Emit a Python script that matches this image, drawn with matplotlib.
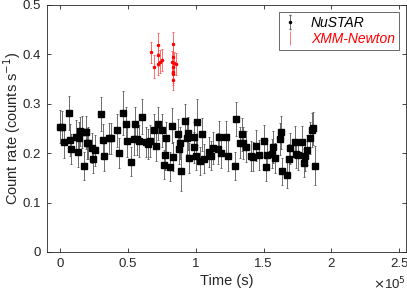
import matplotlib
matplotlib.use("Agg")
import matplotlib.pyplot as plt

# NuSTAR light curve (time in units of 1e5 s)
nu_t = [0.000, 0.015, 0.025, 0.061, 0.071, 0.081, 0.115, 0.128, 0.138, 0.147,
        0.162, 0.177, 0.187, 0.199, 0.206, 0.231, 0.243, 0.256, 0.302, 0.312,
        0.319, 0.359, 0.373, 0.420, 0.432, 0.462, 0.482, 0.489, 0.521, 0.548,
        0.545, 0.565, 0.580, 0.602, 0.636, 0.649, 0.663, 0.690, 0.705, 0.722,
        0.747, 0.762, 0.769, 0.781, 0.808, 0.821, 0.828, 0.867, 0.875, 0.885,
        0.894, 0.921, 0.934, 0.944, 0.953, 0.985, 0.988, 1.002, 1.012, 1.034,
        1.047, 1.057, 1.096, 1.111, 1.123, 1.160, 1.170, 1.184, 1.224, 1.238,
        1.287, 1.297, 1.327, 1.342, 1.344, 1.371, 1.408, 1.420, 1.445, 1.467,
        1.504, 1.514, 1.523, 1.560, 1.572, 1.580, 1.617, 1.629, 1.636, 1.673,
        1.686, 1.693, 1.730, 1.740, 1.752, 1.786, 1.796, 1.806, 1.816, 1.843,
        1.855, 1.867, 1.875]
nu_rate = [0.254, 0.254, 0.222, 0.281, 0.227, 0.208, 0.233, 0.202, 0.231, 0.244,
           0.243, 0.174, 0.242, 0.220, 0.221, 0.211, 0.188, 0.206, 0.279, 0.227,
           0.194, 0.230, 0.230, 0.246, 0.200, 0.281, 0.260, 0.225, 0.183, 0.260,
           0.229, 0.228, 0.225, 0.274, 0.223, 0.219, 0.225, 0.247, 0.215, 0.260,
           0.246, 0.177, 0.196, 0.231, 0.173, 0.256, 0.193, 0.238, 0.209, 0.220,
           0.164, 0.266, 0.231, 0.240, 0.190, 0.212, 0.232, 0.195, 0.263, 0.184,
           0.238, 0.189, 0.202, 0.195, 0.211, 0.209, 0.233, 0.200, 0.233, 0.195,
           0.174, 0.269, 0.221, 0.238, 0.221, 0.213, 0.194, 0.193, 0.215, 0.196,
           0.225, 0.173, 0.196, 0.199, 0.213, 0.190, 0.229, 0.242, 0.163, 0.156,
           0.189, 0.210, 0.223, 0.199, 0.197, 0.223, 0.180, 0.194, 0.206, 0.231,
           0.247, 0.250, 0.175]
nu_err = [0.033, 0.032, 0.031, 0.035, 0.032, 0.030, 0.034, 0.031, 0.033, 0.030,
          0.032, 0.029, 0.033, 0.031, 0.032, 0.030, 0.029, 0.031, 0.034, 0.033,
          0.030, 0.031, 0.032, 0.033, 0.030, 0.044, 0.034, 0.032, 0.030, 0.034,
          0.033, 0.031, 0.032, 0.035, 0.031, 0.030, 0.032, 0.033, 0.031, 0.034,
          0.033, 0.029, 0.031, 0.032, 0.029, 0.035, 0.030, 0.032, 0.031, 0.032,
          0.040, 0.034, 0.032, 0.033, 0.030, 0.031, 0.032, 0.030, 0.046, 0.029,
          0.033, 0.030, 0.031, 0.030, 0.032, 0.031, 0.032, 0.030, 0.033, 0.031,
          0.029, 0.034, 0.031, 0.033, 0.032, 0.031, 0.030, 0.030, 0.031, 0.030,
          0.032, 0.029, 0.031, 0.030, 0.032, 0.030, 0.033, 0.034, 0.028, 0.027,
          0.030, 0.031, 0.032, 0.030, 0.031, 0.032, 0.029, 0.031, 0.030, 0.032,
          0.035, 0.034, 0.039]

# XMM-Newton light curve
xmm_t = [0.671, 0.690, 0.719, 0.719, 0.722, 0.737, 0.747,
         0.826, 0.830, 0.828, 0.830, 0.833, 0.835, 0.842, 0.850, 0.832]
xmm_rate = [0.404, 0.375, 0.420, 0.399, 0.380, 0.385, 0.389,
            0.385, 0.421, 0.375, 0.365, 0.348, 0.395, 0.382, 0.380, 0.360]
xmm_err = [0.022, 0.023, 0.024, 0.023, 0.022, 0.023, 0.022,
           0.022, 0.024, 0.022, 0.022, 0.021, 0.023, 0.022, 0.022, 0.022]

x_ticks = [0, 0.5, 1, 1.5, 2, 2.5]
x_labels = ["0", "0.5", "1", "1.5", "2", "2.5"]
y_ticks = [0, 0.1, 0.2, 0.3, 0.4, 0.5]
y_labels = ["0", "0.1", "0.2", "0.3", "0.4", "0.5"]

plt.rcParams["font.family"] = ["Liberation Sans", "DejaVu Sans"]
gray = "#262626"

fig = plt.figure(figsize=(4.07, 2.94), dpi=100)
ax = fig.add_axes([0.1147, 0.143, 0.883, 0.840])

ax.errorbar([t * 1e5 for t in nu_t], nu_rate, yerr=nu_err, fmt="s", color="black",
            markersize=4.2, elinewidth=0.6, capsize=0.8, capthick=0.6,
            ecolor="#555555", label="_nolegend_")
ax.errorbar([t * 1e5 for t in xmm_t], xmm_rate, yerr=xmm_err, fmt=".", color="red",
            markersize=3, elinewidth=0.6, capsize=0.8, capthick=0.6,
            ecolor="#ff5555", label="_nolegend_")

# legend proxies (small symbols like the original)
h1 = ax.errorbar([float("nan")], [float("nan")], yerr=[1], fmt=".", color="black",
                 markersize=3, elinewidth=0.6, capsize=0.8, ecolor="#555555")
h2 = ax.errorbar([float("nan")], [float("nan")], yerr=[1], fmt="none",
                 ecolor="#ff6666", elinewidth=0.6, linestyle=":")

ax.set_xlim(-0.1e5, 2.55e5)
ax.set_ylim(0, 0.5)
ax.set_xticks([t * 1e5 for t in x_ticks])
ax.set_xticklabels(x_labels)
ax.set_yticks(y_ticks)
ax.set_yticklabels(y_labels)
ax.tick_params(direction="in", top=True, right=True, length=3, width=0.6,
               labelsize=9.5, colors=gray, pad=4)
for s in ax.spines.values():
    s.set_color(gray)
    s.set_linewidth(0.6)

ax.set_xlabel("Time (s)", fontsize=10.5, color=gray, labelpad=3)
ax.set_ylabel("Count rate (counts s$^{-1}$)", fontsize=10.5, color=gray, labelpad=0)
ax.text(1.0, -0.095, r"$\times$10$^5$", transform=ax.transAxes, ha="right",
        va="top", fontsize=9.5, color=gray)

leg = ax.legend([h1, h2], ["NuSTAR", "XMM-Newton"], loc="upper right",
                fontsize=10, frameon=True, fancybox=False,
                edgecolor=gray, borderaxespad=0.5, handlelength=1.0,
                handletextpad=1.0, borderpad=0.3, labelspacing=0.15)
leg.get_frame().set_linewidth(0.6)
for txt, col in zip(leg.get_texts(), ["black", "red"]):
    txt.set_color(col)
    txt.set_style("italic")

fig.savefig("out.png", dpi=100)
